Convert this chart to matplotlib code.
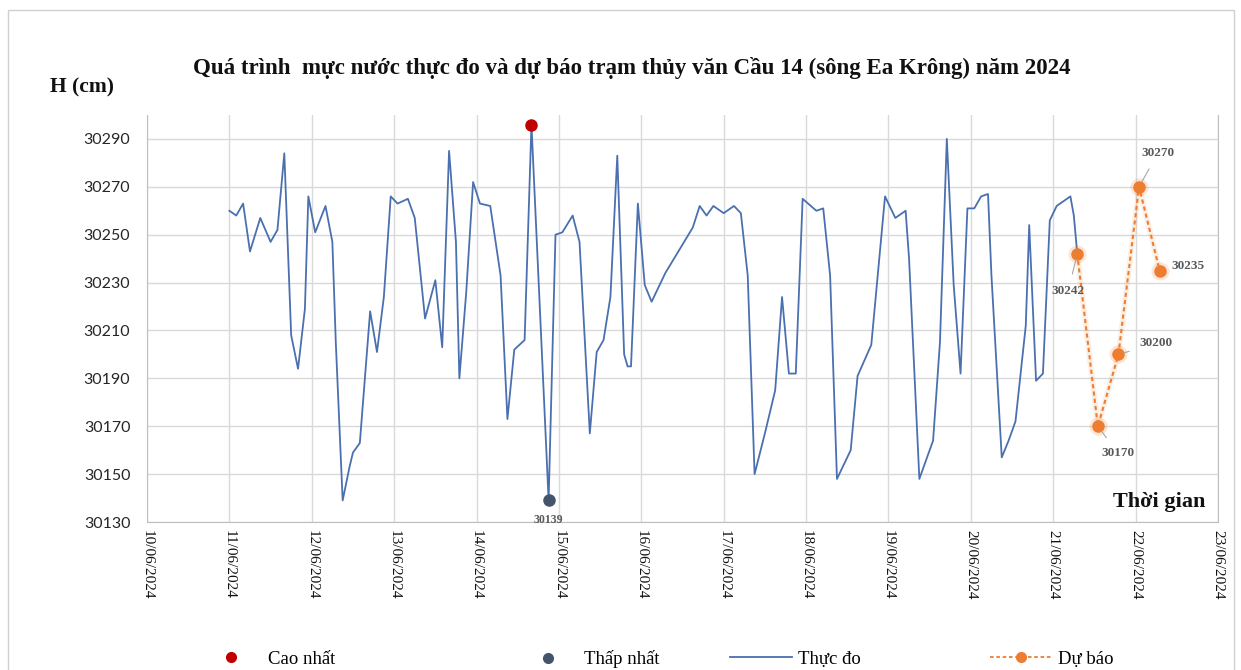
import numpy as np
import pandas as pd
import matplotlib
matplotlib.use("Agg")
import matplotlib.pyplot as plt
import matplotlib.dates as mdates
from matplotlib.lines import Line2D
from matplotlib.patches import Rectangle

# hours counted from 10/06/2024 00:00, water level in cm
obs_hours = [24, 26, 28, 30, 33, 36, 38, 40, 42, 44, 46, 47, 49, 52, 54, 55, 57, 59, 60, 62,
             65, 67, 69, 71, 73, 76, 78, 81, 84, 86, 88, 90, 91, 93, 95, 97, 100, 103, 105, 107,
             110, 112, 117, 119, 121, 124, 126, 129, 131, 133, 135, 137, 139, 140, 141, 143, 145, 147, 151, 159,
             161, 163, 165, 168, 171, 173, 175, 177, 180, 183, 185, 187, 189, 191, 195, 197, 199, 201, 205, 207,
             211, 215, 218, 221, 222, 225, 227, 229, 231, 233, 235, 237, 239, 241, 243, 245, 246, 249, 251, 253,
             256, 257, 259, 261, 263, 265, 267, 269, 270, 271]
obs_level = [30260, 30258, 30263, 30243, 30257, 30247, 30252, 30284, 30208, 30194, 30219, 30266, 30251, 30262, 30247, 30205, 30139, 30153, 30159, 30163,
             30218, 30201, 30224, 30266, 30263, 30265, 30257, 30215, 30231, 30203, 30285, 30247, 30190, 30226, 30272, 30263, 30262, 30233, 30173, 30202,
             30206, 30296, 30139, 30250, 30251, 30258, 30247, 30167, 30201, 30206, 30224, 30283, 30200, 30195, 30195, 30263, 30229, 30222, 30234, 30253,
             30262, 30258, 30262, 30259, 30262, 30259, 30233, 30150, 30167, 30185, 30224, 30192, 30192, 30265, 30260, 30261, 30233, 30148, 30160, 30191,
             30204, 30266, 30257, 30260, 30240, 30148, 30156, 30164, 30205, 30290, 30229, 30192, 30261, 30261, 30266, 30267, 30233, 30157, 30164, 30172,
             30212, 30254, 30189, 30192, 30256, 30262, 30264, 30266, 30258, 30242]

fc_hours = [271, 277, 283, 289, 295]
fc_level = [30242, 30170, 30200, 30270, 30235]

y_ticks = list(range(30130, 30291, 20))

title = "Quá trình  mực nước thực đo và dự báo trạm thủy văn Cầu 14 (sông Ea Krông) năm 2024"
legend_labels = ["Cao nhất", "Thấp nhất", "Thực đo", "Dự báo"]

SERIF = "Liberation Serif"
BLUE = "#4a70b0"
ORANGE = "#ED7D31"
RED = "#C00000"
DARK = "#44546A"
GRID = "#d9d9d9"
LBL = "#595959"

base = pd.Timestamp("2024-06-10")
obs_t = base + pd.to_timedelta(obs_hours, unit="h")
fc_t = base + pd.to_timedelta(fc_hours, unit="h")
obs_v = np.array(obs_level)

fig = plt.figure(figsize=(12.41, 6.70), dpi=100)
ax = fig.add_axes([147 / 1241, 1 - 522 / 670, (1218 - 147) / 1241, (522 - 115) / 670])

ax.plot(obs_t, obs_v, color=BLUE, lw=1.3, zorder=3)

# forecast with soft halo
ax.plot(fc_t, fc_level, color=ORANGE, lw=4, alpha=0.12, zorder=3)
ax.plot(fc_t, fc_level, ls=(0, (2, 1.5)), color=ORANGE, lw=1.5, marker="o", ms=8,
        markeredgecolor=ORANGE, zorder=4)
ax.plot(fc_t, fc_level, ls="none", marker="o", ms=13, color=ORANGE, alpha=0.2,
        markeredgecolor="none", zorder=3)

# highest / lowest observed
i_max = int(np.argmax(obs_v))
i_min = int(np.argmin(obs_v[30:])) + 30
ax.plot(obs_t[i_max], obs_v[i_max], "o", color=RED, ms=8, zorder=5)
ax.plot(obs_t[i_min], obs_v[i_min], "o", color=DARK, ms=8, zorder=5)
ax.annotate(str(obs_v[i_min]), (obs_t[i_min], obs_v[i_min]), xytext=(0, -20),
            textcoords="offset pixels", ha="center", va="center", fontsize=8.5,
            family=SERIF, color=LBL, fontweight="bold")

# forecast labels
offsets = [(-9, -37), (20, -27), (38, 11), (19, 34), (28, 5)]
leaders = [True, True, True, True, False]
for t, v, off, lead in zip(fc_t, fc_level, offsets, leaders):
    ax.annotate(str(v), (t, v), xytext=off, textcoords="offset pixels",
                ha="center", va="center", fontsize=9.5, family=SERIF,
                color=LBL, fontweight="bold", zorder=6,
                arrowprops=dict(arrowstyle="-", color="#a6a6a6", lw=0.8,
                                shrinkA=6, shrinkB=4) if lead else None)

ax.set_xlim(pd.Timestamp("2024-06-10"), pd.Timestamp("2024-06-23"))
ax.set_ylim(30130, 30300)
ax.set_yticks(y_ticks)
ax.xaxis.set_major_locator(mdates.DayLocator())
ax.xaxis.set_major_formatter(mdates.DateFormatter("%d/%m/%Y"))
ax.grid(True, color=GRID, lw=1)
ax.set_axisbelow(True)
ax.spines["top"].set_visible(False)
for s in ["left", "bottom", "right"]:
    ax.spines[s].set_color("#bfbfbf")
ax.tick_params(axis="both", length=0)
ax.tick_params(axis="y", pad=12, labelsize=11.5, labelcolor="#262626")
ax.tick_params(axis="x", pad=6, labelsize=11, labelcolor="#111111")
for lab in ax.get_yticklabels():
    lab.set_family("Lato")
for lab in ax.get_xticklabels():
    lab.set_family(SERIF)
    lab.set_rotation(270)

fig.text(632 / 1241, 1 - 68 / 670, title, ha="center", va="center", fontsize=16.5,
         fontweight="bold", family=SERIF, color="#111111")
fig.text(82 / 1241, 1 - 87 / 670, "H (cm)", ha="center", va="center", fontsize=15.5,
         fontweight="bold", family=SERIF, color="#111111")
fig.text(1205 / 1241, 1 - 502 / 670, "Thời gian", ha="right", va="center", fontsize=16,
         fontweight="bold", family=SERIF, color="#111111")

handles = [
    Line2D([], [], ls="none", marker="o", color=RED, ms=7),
    Line2D([], [], ls="none", marker="o", color=DARK, ms=7),
    Line2D([], [], color=BLUE, lw=1.3),
    Line2D([], [], color=ORANGE, lw=1.3, ls=(0, (2, 1.5)), marker="o", ms=7),
]
x_starts = [200, 517, 730, 990]
for h, lab, xs in zip(handles, legend_labels, x_starts):
    fig.legend([h], [lab], loc="center left", bbox_to_anchor=(xs / 1241, 0.016),
               frameon=False, handlelength=3.3, handletextpad=0.3, borderpad=0,
               borderaxespad=0, prop={"family": SERIF, "size": 13.5})

fig.patches.append(Rectangle((8 / 1241, -0.05), (1234 - 8) / 1241, 1.05 - 10 / 670,
                             transform=fig.transFigure, fill=False,
                             edgecolor="#d0d0d0", lw=1))

fig.savefig("out.png", dpi=100)
